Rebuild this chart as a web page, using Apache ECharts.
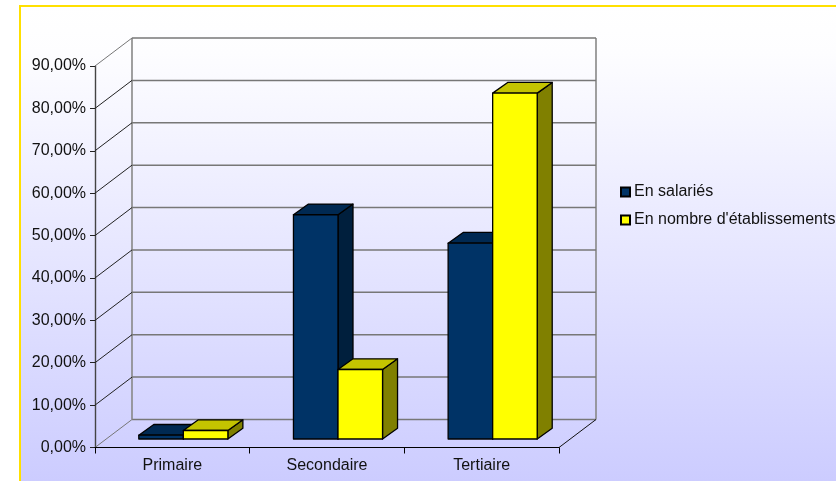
<!DOCTYPE html>
<html><head><meta charset="utf-8">
<style>html,body{margin:0;padding:0;background:#fff}#c{width:836px;height:481px}</style>
<script src="https://cdn.jsdelivr.net/npm/echarts@6/dist/echarts.min.js"></script>
</head><body><div id="c"></div>
<script>
const categories = ['Primaire', 'Secondaire', 'Tertiaire'];
const salaries = [0.9, 52.9, 46.2];
const etablissements = [2.0, 16.4, 81.6];
const ticks = [0, 10, 20, 30, 40, 50, 60, 70, 80, 90];

const DEPTH = [37, -28], INSET = [11, -8.5], BAR_DEPTH = [15, -10.7], BAR_RATIO = 0.288;
const FONT = 'Liberation Sans';
const chart = echarts.init(document.getElementById('c'), null, {renderer: 'canvas'});

const line = (a, b, stroke, w) => ({type: 'line', shape: {x1: a[0], y1: a[1], x2: b[0], y2: b[1]},
  style: {stroke, lineWidth: w || 1, fill: null}, silent: true});
const add = (p, d) => [p[0] + d[0], p[1] + d[1]];

function renderWalls(params, api) {
  const gx = params.coordSys.x, gw = params.coordSys.width;
  const v = api.value(0);
  const y = api.coord([0, v])[1];
  const l = [gx, y], r = [gx + gw, y];
  const lb = add(l, DEPTH), rb = add(r, DEPTH);
  const gray = '#777777';
  const children = [
    line(l, lb, v === 0 || v === 90 ? gray : '#222', 1),
    line(lb, rb, gray, 1.5)
  ];
  if (v === 0) {
    const top = api.coord([0, 90])[1];
    children.push(line(lb, [lb[0], top + DEPTH[1]], '#888888', 1.6));
    children.push(line(rb, [rb[0], top + DEPTH[1]], '#888888', 1.6));
    children.push(line(r, rb, '#111', 1));
  }
  return {type: 'group', children};
}

function barRenderer(idx, front, top, side) {
  return function (params, api) {
    const cat = api.value(0), val = api.value(1);
    const w = api.size([1, 0])[0] * BAR_RATIO;
    const base = add(api.coord([cat, 0]), INSET);
    const head = add(api.coord([cat, val]), INSET);
    const x0 = base[0] + (idx - 1) * w, x1 = x0 + w;
    const yb = base[1], yt = head[1];
    const dx = BAR_DEPTH[0], dy = BAR_DEPTH[1];
    const s = {stroke: '#000', lineWidth: 1.3, lineJoin: 'round'};
    const poly = (pts, fill) => ({type: 'polygon', shape: {points: pts}, style: Object.assign({fill}, s)});
    return {type: 'group', children: [
      poly([[x1, yt], [x1 + dx, yt + dy], [x1 + dx, yb + dy], [x1, yb]], side),
      poly([[x0, yt], [x0 + dx, yt + dy], [x1 + dx, yt + dy], [x1, yt]], top),
      poly([[x0, yt], [x1, yt], [x1, yb], [x0, yb]], front)
    ]};
  };
}

const barSeries = (name, values, idx, front, top, side) => ({
  name, type: 'custom', coordinateSystem: 'cartesian2d', z: 5,
  renderItem: barRenderer(idx, front, top, side),
  encode: {x: 0, y: 1}, silent: true,
  itemStyle: {color: front, borderColor: '#000', borderWidth: 1},
  data: values.map((v, i) => [i, v])
});

chart.setOption({
  animation: false,
  textStyle: {fontFamily: FONT},
  graphic: [{type: 'rect', z: -10, silent: true,
    shape: {x: 20, y: 6, width: 900, height: 600},
    style: {
      fill: {type: 'linear', x: 0, y: 6, x2: 0, y2: 481, global: true,
        colorStops: [{offset: 0, color: '#ffffff'}, {offset: 0.1, color: '#fdfdff'}, {offset: 1, color: '#ccccff'}]},
      stroke: '#ffe000', lineWidth: 2
    }}],
  legend: {
    left: 615, top: 178, orient: 'vertical', itemWidth: 9, itemHeight: 9, itemGap: 10, align: 'left',
    icon: 'rect', selectedMode: false,
    textStyle: {fontFamily: FONT, fontSize: 16, lineHeight: 18, color: '#111', padding: [0, 0, 0, -1]},
    data: ['En salariés', "En nombre d'établissements"]
  },
  grid: {left: 95, top: 66, width: 464, height: 381.5, containLabel: false},
  xAxis: {
    type: 'category', data: categories, z: 4,
    axisLine: {lineStyle: {color: '#000', width: 1}},
    axisTick: {show: true, length: 6, lineStyle: {color: '#000'}},
    axisLabel: {fontFamily: FONT, fontSize: 16, color: '#111', margin: 10},
    splitLine: {show: false}
  },
  yAxis: {
    type: 'value', min: 0, max: 90, interval: 10,
    axisLine: {show: true, lineStyle: {color: '#444', width: 1.4}},
    axisTick: {show: true, length: 5, lineStyle: {color: '#222'}},
    axisLabel: {fontFamily: FONT, fontSize: 16, color: '#111', margin: 9,
      formatter: v => v.toFixed(2).replace('.', ',') + '%'},
    splitLine: {show: false}
  },
  series: [
    {type: 'custom', coordinateSystem: 'cartesian2d', z: 1, silent: true,
      renderItem: renderWalls, encode: {y: 0}, data: ticks.map(t => [t])},
    barSeries('En salariés', salaries, 0, '#003366', '#002952', '#001f3d'),
    barSeries("En nombre d'établissements", etablissements, 1, '#ffff00', '#c4c400', '#808000')
  ]
});
</script></body></html>
